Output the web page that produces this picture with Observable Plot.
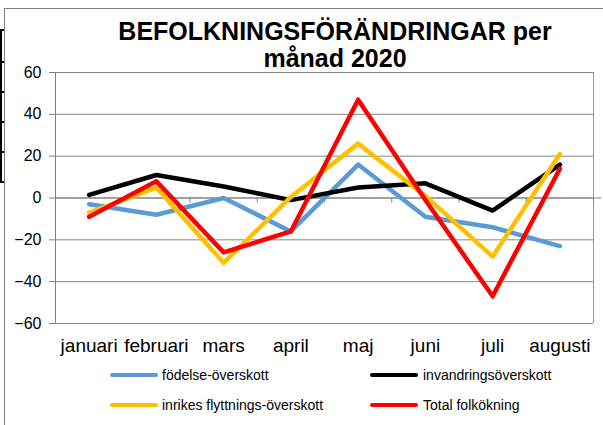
<!DOCTYPE html>
<html>
<head>
<meta charset="utf-8">
<script src="https://cdn.jsdelivr.net/npm/d3@7"></script>
<script src="https://cdn.jsdelivr.net/npm/@observablehq/plot@0.6"></script>
<style>
  html, body { margin: 0; padding: 0; background: #fff; }
  body { width: 603px; height: 425px; overflow: hidden; font-family: "Liberation Sans", Arial, sans-serif; }
  #wrap { position: relative; width: 603px; height: 425px; }
  #frameTop { position: absolute; left: 4px; top: 8px; width: 599px; height: 0; border-top: 1px solid #808080; }
  #frameLeft { position: absolute; left: 4px; top: 8px; width: 0; height: 417px; border-left: 1px solid #808080; }
  #cellV { position: absolute; left: 0; top: 30px; width: 2px; height: 153px; background: #000; }
  .cellH { position: absolute; left: 0; width: 4px; height: 2px; background: #000; }
  #title { position: absolute; left: 0; width: 670px; top: 18px; text-align: center; font-weight: bold; font-size: 25px; line-height: 27px; color: #000; }
  #chart { position: absolute; left: 0; top: 0; }
  .leg { position: absolute; display: flex; align-items: center; font-size: 14px; color: #000; white-space: nowrap; }
  .sw { width: 48px; height: 4px; border-radius: 2px; margin-right: 4px; }
</style>
</head>
<body>
<div id="wrap">
  <div id="frameTop"></div>
  <div id="frameLeft"></div>
  <div id="cellV"></div>
  <div class="cellH" style="top:29px"></div>
  <div class="cellH" style="top:61px"></div>
  <div class="cellH" style="top:91px"></div>
  <div class="cellH" style="top:121px"></div>
  <div class="cellH" style="top:151px"></div>
  <div class="cellH" style="top:181px"></div>
  <div id="title">BEFOLKNINGSFÖRÄNDRINGAR per<br>månad 2020</div>
  <div id="chart"></div>
  <div id="legend"></div>
</div>
<script>
const months = ["januari", "februari", "mars", "april", "maj", "juni", "juli", "augusti"];
const fodelse = [-3, -8, 0, -16, 16, -9, -14, -23];
const invandring = [1.5, 11, 5.5, -1, 5, 7, -6, 16];
const inrikes = [-7, 5, -31, 0.5, 26, 1, -28, 21];
const total = [-9, 8, -26, -16, 47, -1, -47, 14];
const seriesNames = ["födelse-överskott", "invandringsöverskott", "inrikes flyttnings-överskott", "Total folkökning"];
const seriesColors = ["#5B9BD5", "#000000", "#FFC000", "#FF0000"];
const yTicks = [-60, -40, -20, 0, 20, 40, 60];

const seriesValues = [fodelse, invandring, inrikes, total];
const rows = seriesValues.map((vals, s) => vals.map((v, i) => ({series: seriesNames[s], month: months[i], idx: i + 0.5, value: v})));
const bounds = d3.range(1, months.length + 1);
const centers = months.map((m, i) => i + 0.5);

const plot = Plot.plot({
  width: 603,
  height: 362,
  marginTop: 72,
  marginBottom: 39,
  marginLeft: 55,
  marginRight: 10,
  style: {fontFamily: "'Liberation Sans', Arial, sans-serif", color: "#000", background: "transparent"},
  x: {type: "linear", domain: [0, months.length]},
  y: {domain: [-60, 60]},
  marks: [
    Plot.ruleY(yTicks, {stroke: "#868686", strokeWidth: 1}),
    Plot.ruleX([months.length], {y1: -60, y2: 60, stroke: "#9a9a9a"}),
    Plot.ruleX([0], {y1: -60, y2: 60, stroke: "#808080"}),
    Plot.ruleY([0], {x1: 0, x2: months.length, insetRight: -8, stroke: "#808080"}),
    Plot.ruleX(bounds, {x: d => d, y1: 0, y2: 0, insetBottom: -5, stroke: "#808080"}),
    Plot.axisY({ticks: yTicks, tickSize: 6, tickPadding: 8, fontSize: 16, stroke: "#808080", fill: "#000", label: null}),
    Plot.axisX({ticks: centers, tickFormat: d => months[Math.round(d - 0.5)], tickSize: 0, tickPadding: 15, fontSize: 19, fill: "#000", label: null}),
    ...rows.map((r, s) => Plot.line(r, {x: "idx", y: "value", stroke: seriesColors[s], strokeWidth: 4.5, strokeLinecap: "round", strokeLinejoin: "round"}))
  ]
});
document.getElementById("chart").appendChild(plot);

const legendPos = [[110, 375], [370, 375], [110, 405], [370, 405]];
const legend = document.getElementById("legend");
seriesNames.forEach((name, i) => {
  const item = document.createElement("div");
  item.className = "leg";
  item.style.left = legendPos[i][0] + "px";
  item.style.top = (legendPos[i][1] - 9) + "px";
  item.style.height = "18px";
  const sw = document.createElement("div");
  sw.className = "sw";
  sw.style.background = seriesColors[i];
  if (i % 2 === 1) sw.style.marginRight = "5px";
  const t = document.createElement("span");
  t.textContent = name;
  item.appendChild(sw);
  item.appendChild(t);
  legend.appendChild(item);
});
</script>
</body>
</html>
